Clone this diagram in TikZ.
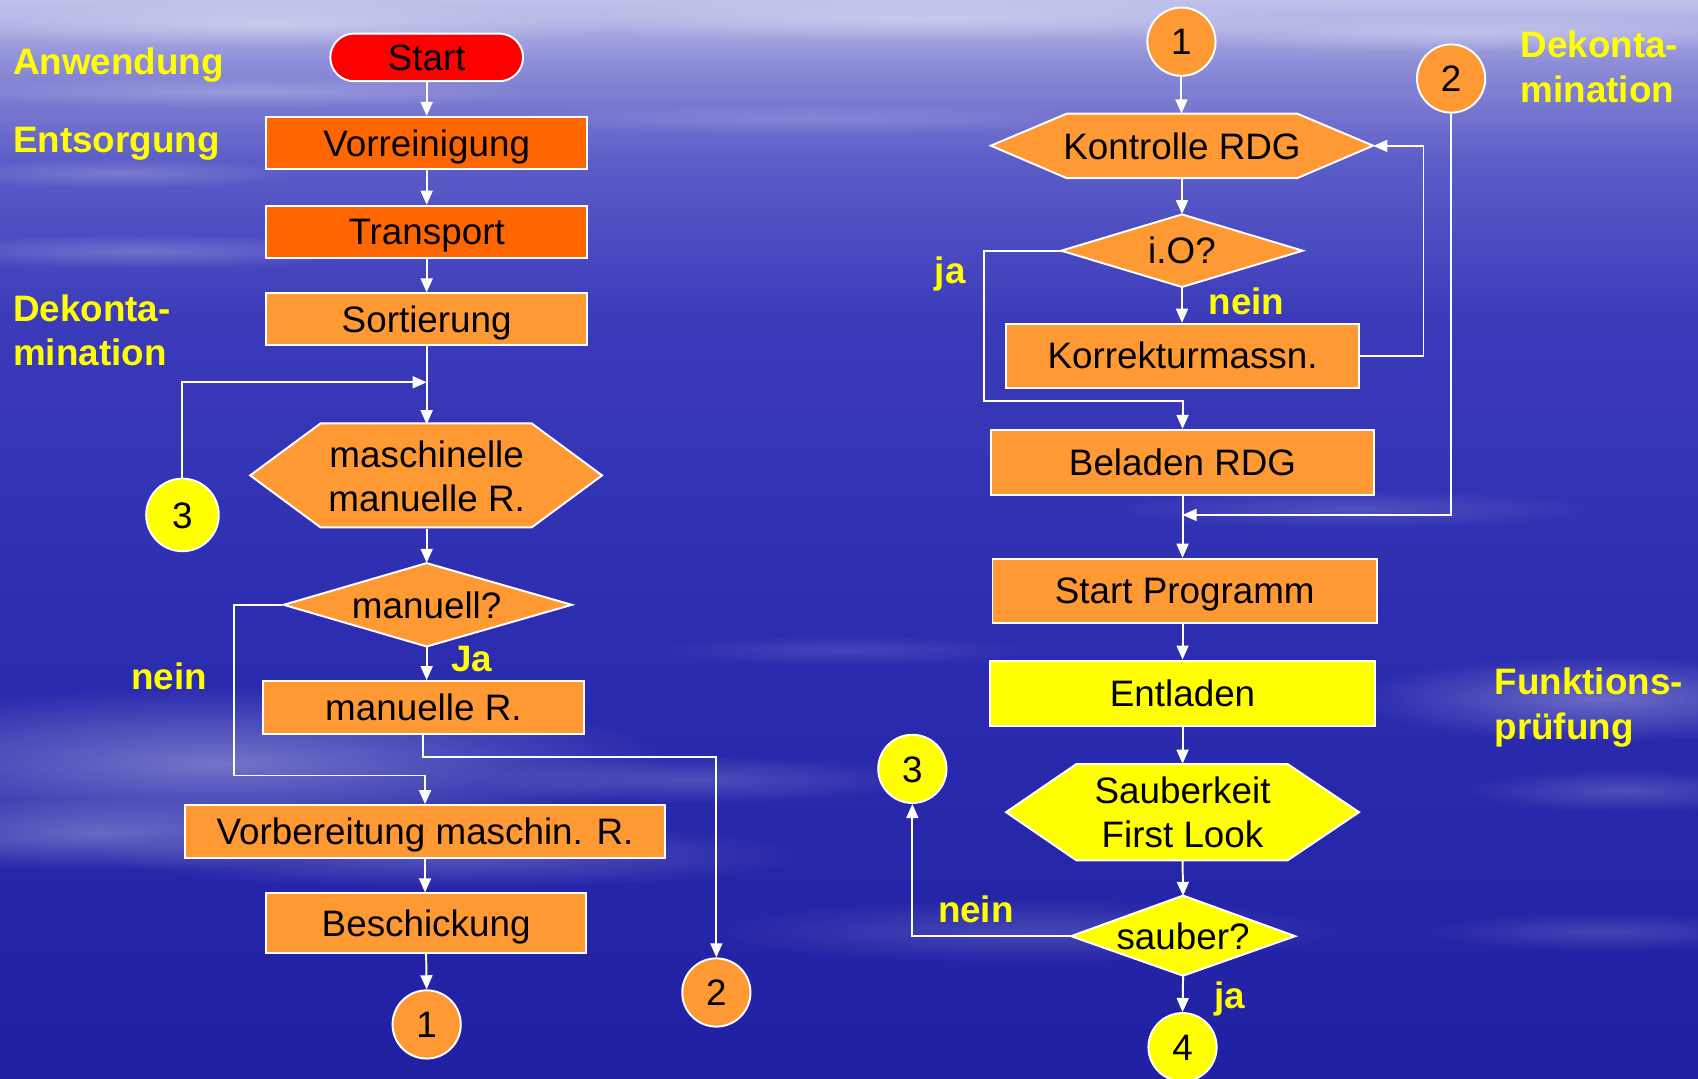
\documentclass[tikz,border=0pt]{standalone}
\usepackage{fontspec}
\setmainfont{Liberation Sans}
\usetikzlibrary{arrows.meta,fadings,calc}
\definecolor{orL}{RGB}{255,153,51}
\definecolor{orD}{RGB}{255,102,0}
\definecolor{yl}{RGB}{255,255,0}
\definecolor{rd}{RGB}{255,0,0}
\definecolor{bgA}{RGB}{192,194,234}
\definecolor{bgB}{RGB}{140,140,215}
\definecolor{bgC}{RGB}{92,92,200}
\definecolor{bgD}{RGB}{58,58,186}
\definecolor{bgE}{RGB}{44,44,176}
\definecolor{bgF}{RGB}{32,32,163}
\pgfdeclareverticalshading{skyshade}{100bp}{color(0bp)=(bgF); color(25bp)=(bgF); color(45bp)=(bgE); color(60bp)=(bgD); color(67.5bp)=(bgC); color(72bp)=(bgB); color(75bp)=(bgA); color(100bp)=(bgA)}
\tikzfading[name=softblob, inner color=transparent!0, outer color=transparent!100]
\tikzset{
  bx/.style={draw=white, line width=1.8pt, rectangle, text=black, font=\fontsize{34}{41}\selectfont, inner sep=0pt, text height=24.4pt, text depth=0pt},
  circ/.style={draw=white, line width=1.8pt, circle, text=black, font=\fontsize{34}{41}\selectfont, inner sep=0pt, text height=24.4pt, text depth=0pt, minimum size=63pt},
  ptext/.style={rectangle, text=black, font=\fontsize{34}{41}\selectfont, inner sep=0pt, text height=24.4pt, text depth=0pt},
  mtext/.style={rectangle, text=black, font=\fontsize{34}{41}\selectfont, inner sep=0pt, align=center},
  poly/.style={draw=white, line width=1.8pt},
  arr/.style={draw=white, line width=1.8pt, -{Triangle[length=13pt,width=11pt]}},
  lab/.style={text=yl, font=\fontsize{34}{41}\selectfont\bfseries, inner sep=0pt, align=left},
  cloud/.style={fill=white, path fading=softblob},
}
\begin{document}
\begin{tikzpicture}[x=1pt,y=-1pt]
\useasboundingbox (0,0) rectangle (1568,996);
\shade[shading=skyshade] (0,0) rectangle (1568,996);
% clouds
\fill[cloud, opacity=0.35] (250,22) ellipse [x radius=340, y radius=22];
\fill[cloud, opacity=0.30] (850,18) ellipse [x radius=400, y radius=20];
\fill[cloud, opacity=0.30] (1350,30) ellipse [x radius=320, y radius=18];
\fill[cloud, opacity=0.22] (230,85) ellipse [x radius=280, y radius=14];
\fill[cloud, opacity=0.20] (110,160) ellipse [x radius=170, y radius=14];
\fill[cloud, opacity=0.22] (130,232) ellipse [x radius=220, y radius=16];
\fill[cloud, opacity=0.15] (750,110) ellipse [x radius=280, y radius=14];
\fill[cloud, opacity=0.35] (200,705) ellipse [x radius=420, y radius=70];
\fill[cloud, opacity=0.30] (90,770) ellipse [x radius=280, y radius=34];
\fill[cloud, opacity=0.22] (420,790) ellipse [x radius=330, y radius=30];
\fill[cloud, opacity=0.18] (640,720) ellipse [x radius=220, y radius=22];
\fill[cloud, opacity=0.16] (950,860) ellipse [x radius=300, y radius=30];
\fill[cloud, opacity=0.12] (780,600) ellipse [x radius=180, y radius=14];
\fill[cloud, opacity=0.30] (1480,645) ellipse [x radius=230, y radius=40];
\fill[cloud, opacity=0.18] (1500,730) ellipse [x radius=150, y radius=20];
\fill[cloud, opacity=0.15] (1250,470) ellipse [x radius=220, y radius=18];
\fill[cloud, opacity=0.15] (1480,860) ellipse [x radius=170, y radius=18];

% ---------- left column ----------
\node[bx, fill=rd, rounded corners=22pt, minimum width=178pt, minimum height=44pt] (start) at (394,53) {Start};
\node[bx, fill=orD, minimum width=296pt, minimum height=48pt] (vorr) at (394,132) {Vorreinigung};
\node[bx, fill=orD, minimum width=296pt, minimum height=48pt] (trans) at (394,214) {Transport};
\node[bx, fill=orL, minimum width=296pt, minimum height=48pt] (sort) at (394,295) {Sortierung};
\filldraw[poly, fill=orL] (231,439) -- (296,391) -- (491,391) -- (556,439) -- (491,487) -- (296,487) -- cycle;
\node[mtext, minimum width=325pt, minimum height=96pt] (hexL) at (394,440) {maschinelle\\manuelle R.};
\filldraw[poly, fill=orL] (262,558.5) -- (394,520) -- (528,558.5) -- (394,597) -- cycle;
\node[ptext, minimum width=266pt, minimum height=77pt] (dmanu) at (394,558.5) {manuell?};
\node[bx, fill=orL, minimum width=296pt, minimum height=49pt] (manR) at (391,653.5) {manuelle R.};
\node[bx, fill=orL, minimum width=443pt, minimum height=49pt] (vorb) at (392.5,768) {Vorbereitung maschin. R.};
\node[bx, fill=orL, minimum width=295pt, minimum height=55pt] (besch) at (393.5,852.5) {Beschickung};
\node[circ, fill=orL] (c1L) at (394,946) {1};
\node[circ, fill=orL] (c2L) at (661.5,916.5) {2};
\node[circ, fill=yl, minimum size=67pt] (c3L) at (168.5,475.5) {3};
\coordinate (mergeL) at (394,353);

\draw[arr] (start) -- (vorr);
\draw[arr] (vorr) -- (trans);
\draw[arr] (trans) -- (sort);
\draw[arr] (sort.south) -- (sort.south |- hexL.north);
\draw[arr] (c3L.north) |- (mergeL);
\draw[arr] (hexL.south) -- (dmanu.north);
\draw[arr] (dmanu.south) -- (dmanu.south |- manR.north);
\draw[arr] (dmanu.west) -- ++(-44.5,0) |- ($(vorb.north)+(0,-26.5)$) -- (vorb.north);
\draw[arr] (manR.south) -- ++(0,20) -| (c2L.north);
\draw[arr] (vorb.south) -- (vorb.south |- besch.north);
\draw[arr] (besch.south) -- (c1L.north);

% ---------- right column ----------
\node[circ, fill=orL] (c1R) at (1091,38.5) {1};
\node[circ, fill=orL] (c2R) at (1340,72.5) {2};
\filldraw[poly, fill=orL] (915,134.5) -- (985,105) -- (1198,105) -- (1268,134.5) -- (1198,164.5) -- (985,164.5) -- cycle;
\node[ptext, minimum width=353pt, minimum height=59.5pt] (hexK) at (1091.5,134.75) {Kontrolle RDG};
\filldraw[poly, fill=orL] (980,231.5) -- (1091.5,198) -- (1203,231.5) -- (1091.5,265) -- cycle;
\node[ptext, minimum width=223pt, minimum height=67pt] (dIO) at (1091.5,231.5) {i.O?};
\node[bx, fill=orL, minimum width=326pt, minimum height=59pt] (korr) at (1092,328.5) {Korrekturmassn.};
\node[bx, fill=orL, minimum width=354pt, minimum height=60pt] (belad) at (1092,427) {Beladen RDG};
\node[bx, fill=orL, minimum width=355pt, minimum height=59pt] (startP) at (1094,545.5) {Start Programm};
\node[bx, fill=yl, minimum width=356pt, minimum height=60pt] (entl) at (1092,640) {Entladen};
\filldraw[poly, fill=yl] (929,750) -- (994,705.5) -- (1189,705.5) -- (1255,750) -- (1189,794.5) -- (994,794.5) -- cycle;
\node[mtext, minimum width=326pt, minimum height=89pt] (hexS) at (1092,750) {Sauberkeit\\First Look};
\filldraw[poly, fill=yl] (989,864.5) -- (1092.5,827) -- (1196,864.5) -- (1092.5,901) -- cycle;
\node[ptext, minimum width=207pt, minimum height=74pt] (dS) at (1092.5,864.5) {sauber?};
\node[circ, fill=yl] (c3R) at (842.5,710) {3};
\node[circ, fill=yl] (c4R) at (1092,967) {4};
\coordinate (mergeR) at (1092,475.5);

\draw[arr] (c1R.south) -- (c1R.south |- hexK.north);
\draw[arr] (hexK.south) -- (dIO.north);
\draw[arr] (dIO.south) -- (dIO.south |- korr.north);
\draw[arr] (korr.east) -- ++(58.6,0) |- (hexK.east);
\draw[arr] (dIO.west) -- ++(-71,0) |- ($(belad.north)+(0,-26)$) -- (belad.north);
\draw[arr] (c2R.south) |- (mergeR);
\draw[arr] (belad.south) -- (belad.south |- startP.north);
\draw[arr] (startP.south -| entl.north) -- (entl.north);
\draw[arr] (entl.south) -- (hexS.north);
\draw[arr] (hexS.south) -- (dS.north);
\draw[arr] (dS.south) -- (c4R.north);
\draw[arr] (dS.west) -| (c3R.south);

% ---------- labels ----------
\node[lab, anchor=base west] (lAnw) at (12,69) {Anwendung};
\node[lab, anchor=base west] (lEnt) at (12,141) {Entsorgung};
\node[lab, anchor=west, font=\fontsize{34}{40}\selectfont\bfseries] (lDek) at (12,305) {Dekonta-\\mination};
\node[lab, anchor=west, font=\fontsize{34}{42}\selectfont\bfseries] (rDek) at (1404,61.5) {Dekonta-\\mination};
\node[lab, anchor=west] (rFkt) at (1380,653.5) {Funktions-\\prüfung};
\node[lab, anchor=base west] (lNein) at (121,637) {nein};
\node[lab, anchor=base west] (lJa) at (416.5,620) {Ja};
\node[lab, anchor=base west] (rJa1) at (863,261.5) {ja};
\node[lab, anchor=base west] (rNein1) at (1116,290) {nein};
\node[lab, anchor=base west] (rNein2) at (866,851.5) {nein};
\node[lab, anchor=base west] (rJa2) at (1121,931) {ja};
\end{tikzpicture}
\end{document}
